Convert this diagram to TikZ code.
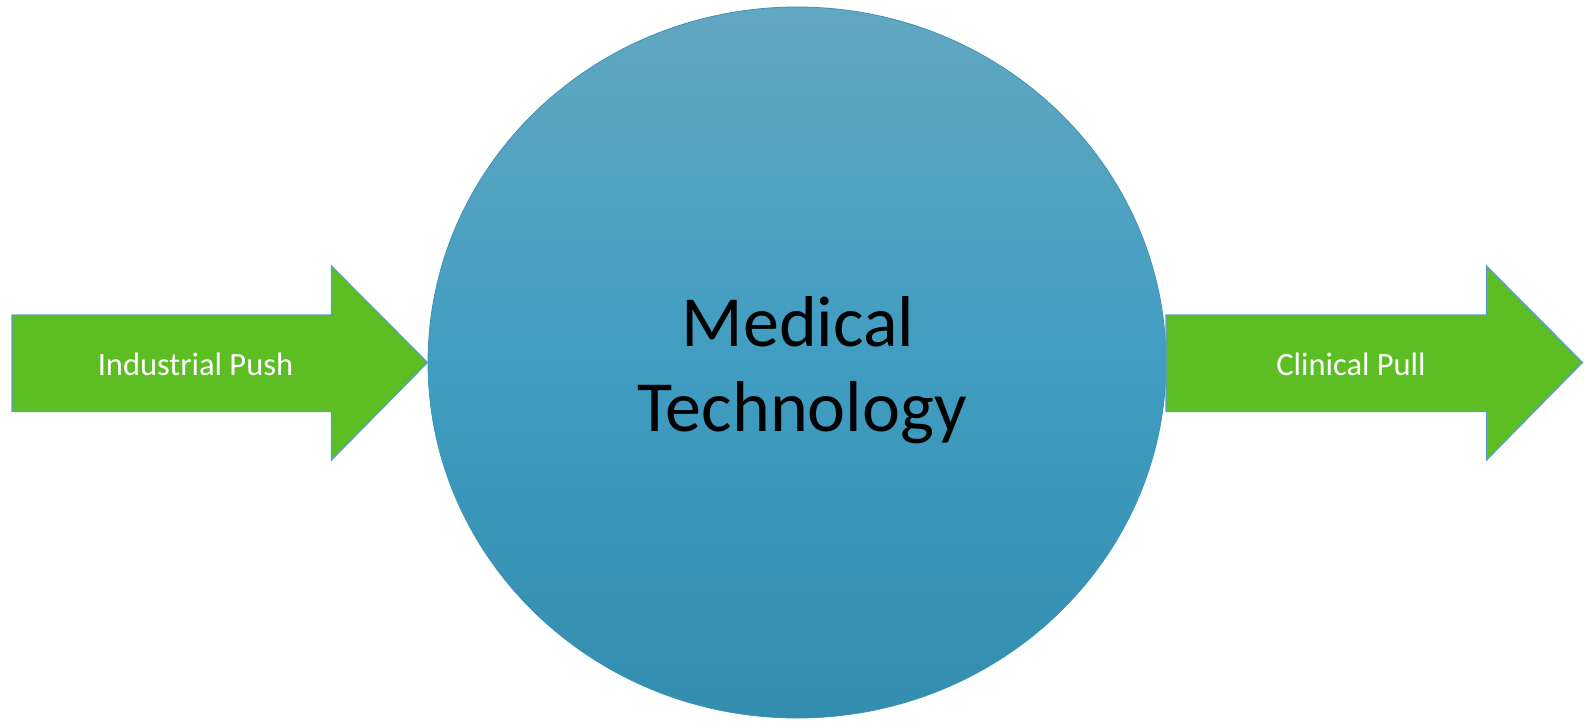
\documentclass[tikz,border=0pt]{standalone}
\usepackage{fontspec}
\setmainfont{Carlito}
\definecolor{arrgreen}{HTML}{5DBE24}
\definecolor{arredge}{HTML}{5B9BD5}
\definecolor{elltop}{HTML}{62A7C1}
\definecolor{ellmid}{HTML}{409DC1}
\definecolor{ellbot}{HTML}{338DAE}
\definecolor{elledge}{HTML}{3D93B5}
\tikzset{
  bigarrow/.style={fill=arrgreen, draw=arredge, line width=1.2pt, line join=miter},
  arrlabel/.style={anchor=base, text=white, font=\fontsize{32.5}{36}\selectfont, inner sep=0pt},
  medlabel/.style={anchor=base, text=black, font=\fontsize{72}{85}\selectfont, inner sep=0pt}
}
\begin{document}
\begin{tikzpicture}[x=1pt,y=-1pt]
\useasboundingbox (0,0) rectangle (1584,721);
% central ellipse
\shade[top color=elltop, bottom color=ellbot, middle color=ellmid, draw=elledge, line width=0.8pt]
  (797,362.5) ellipse [x radius=369, y radius=355.5];
% left arrow
\draw[bigarrow] (12,315) -- (331.5,315) -- (331.5,266) -- (427.5,362.5) -- (331.5,460) -- (331.5,411.5) -- (12,411.5) -- cycle;
% right arrow
\draw[bigarrow] (1166,315) -- (1486.5,315) -- (1486.5,266) -- (1582.5,362.5) -- (1486.5,460) -- (1486.5,411.5) -- (1166,411.5) -- cycle;
\node[arrlabel] (push) at (195.5,375) {Industrial Push};
\node[arrlabel] (pull) at (1351,375) {Clinical Pull};
\node[medlabel] (med1) at (798,346.5) {Medical};
\node[medlabel] (med2) at (802,431.5) {Technology};
\end{tikzpicture}
\end{document}
